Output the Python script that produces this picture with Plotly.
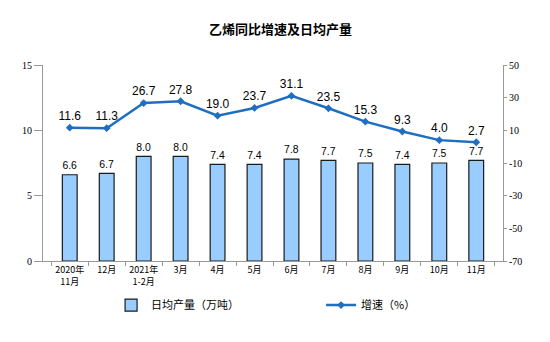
import plotly.graph_objects as go

categories = ["2020年<br>11月", "12月", "2021年<br>1-2月", "3月", "4月", "5月", "6月", "7月", "8月", "9月", "10月", "11月"]
daily_output = [6.6, 6.7, 8.0, 8.0, 7.4, 7.4, 7.8, 7.7, 7.5, 7.4, 7.5, 7.7]
growth = [11.6, 11.3, 26.7, 27.8, 19.0, 23.7, 31.1, 23.5, 15.3, 9.3, 4.0, 2.7]
right_ticks = [-70, -50, -30, -10, 10, 30, 50]

fig = go.Figure()
fig.add_trace(go.Bar(
    x=categories, y=daily_output, name="日均产量（万吨）",
    marker=dict(color="#99ccff", line=dict(color="#1a1a1a", width=1.2)),
    width=0.4,
    text=[f"{v:.1f}" for v in daily_output], textposition="outside",
    textfont=dict(family="Arial, Liberation Sans", size=12, color="#000"),
    cliponaxis=False,
))
fig.add_trace(go.Scatter(
    x=categories, y=growth, name="增速（%）", yaxis="y2",
    mode="lines+markers+text",
    line=dict(color="#1f6ec0", width=2.5),
    marker=dict(symbol="diamond", size=6, color="#1f6ec0"),
    text=[f"{v:.1f}" for v in growth], textposition="top center",
    textfont=dict(family="Arial, Liberation Sans", size=12, color="#000"),
    cliponaxis=False,
))

fig.update_layout(
    width=550, height=342,
    paper_bgcolor="white", plot_bgcolor="white",
    margin=dict(l=43, r=47, t=65, b=81, autoexpand=False),
    title=dict(text="<b>乙烯同比增速及日均产量</b>", x=0.51, xanchor="center", y=0.915, yanchor="middle",
               font=dict(family="Noto Sans CJK SC", size=13, color="#000")),
    font=dict(family="Noto Sans CJK SC", size=10, color="#000"),
    showlegend=True,
    legend=dict(orientation="h", x=0.148, xanchor="left", y=-0.225, yanchor="middle",
                font=dict(family="Noto Sans CJK SC", size=11), itemwidth=30,
                traceorder="normal", entrywidthmode="pixels", entrywidth=165),
    xaxis=dict(showline=True, linecolor="#999", ticks="outside", tickcolor="#999", ticklen=4,
               tickson="boundaries", tickangle=0, tickfont=dict(family="Noto Sans CJK SC", size=9)),
    yaxis=dict(range=[0, 15], dtick=5, showgrid=False, showline=True, linecolor="#999",
               ticks="outside", tickcolor="#999", ticklen=8, zeroline=False,
               tickfont=dict(family="Liberation Serif", size=10)),
    yaxis2=dict(range=[-70, 50], tickvals=right_ticks, ticktext=[str(t) for t in right_ticks],
                overlaying="y", side="right", showgrid=False,
                showline=True, linecolor="#999", ticks="outside", tickcolor="#999", ticklen=3,
                zeroline=False, tickfont=dict(family="Liberation Serif", size=10)),
)

fig.write_html("out.html")
